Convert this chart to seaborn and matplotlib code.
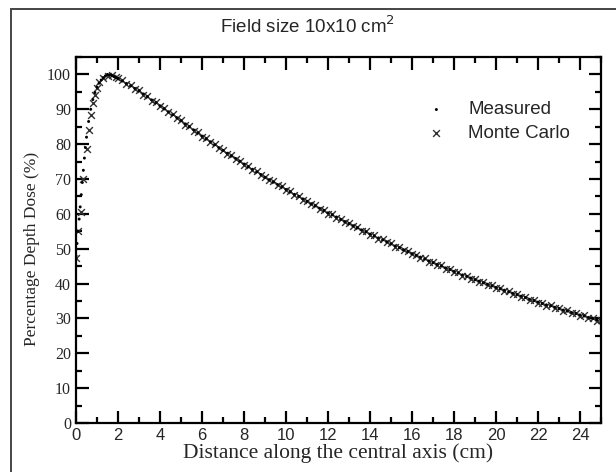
import numpy as np
import pandas as pd
import matplotlib
matplotlib.use("Agg")
import matplotlib.pyplot as plt
from matplotlib.patches import Rectangle
from matplotlib.ticker import MultipleLocator
import seaborn as sns

# Measured PDD, build-up region (cm, %)
depth_meas_buildup = [0.0, 0.05, 0.1, 0.15, 0.2, 0.25, 0.3, 0.35, 0.4, 0.45, 0.5,
                      0.6, 0.7, 0.8, 0.9, 1.0, 1.1, 1.2, 1.3, 1.4, 1.5, 1.6, 1.7,
                      1.8, 1.9, 2.0]
dose_meas_buildup = [48.0, 51.5, 55.0, 58.5, 62.0, 65.5, 69.0, 72.5, 76.0, 79.0, 82.0,
                     86.5, 90.0, 92.8, 94.8, 96.3, 97.5, 98.4, 99.1, 99.6, 100.0, 99.9, 99.7,
                     99.4, 99.1, 98.8]

# Monte Carlo PDD, build-up region
depth_mc_buildup = [0.0, 0.1, 0.25, 0.35, 0.5, 0.6, 0.7, 0.8, 0.9, 1.0, 1.1, 1.3,
                    1.5, 1.7, 1.9, 2.0]
dose_mc_buildup = [47.4, 55.0, 60.5, 70.0, 78.6, 84.0, 88.5, 91.7, 94.0, 96.0, 97.8, 99.0,
                   99.6, 99.8, 99.3, 98.9]

# fall-off region, sampled every 0.2 cm from 2.2 to 25 cm
depth_tail = np.round(np.arange(2.2, 25.01, 0.2), 1)
dose_meas_tail = [
    98.1, 97.4, 96.7, 96.0, 95.3,
    94.4, 93.6, 92.7, 91.9, 91.0,
    90.1, 89.3, 88.4, 87.6, 86.7,
    85.8, 85.0, 84.1, 83.2, 82.3,
    81.5, 80.7, 79.8, 79.0, 78.2,
    77.4, 76.6, 75.9, 75.1, 74.3,
    73.5, 72.8, 72.0, 71.3, 70.5,
    69.8, 69.1, 68.4, 67.7, 67.0,
    66.3, 65.6, 65.0, 64.3, 63.6,
    62.9, 62.3, 61.6, 61.0, 60.3,
    59.7, 59.1, 58.4, 57.8, 57.2,
    56.6, 56.0, 55.4, 54.8, 54.2,
    53.6, 53.1, 52.5, 52.0, 51.4,
    50.8, 50.3, 49.7, 49.2, 48.6,
    48.1, 47.6, 47.0, 46.5, 46.0,
    45.5, 45.0, 44.5, 44.0, 43.5,
    43.0, 42.5, 42.1, 41.6, 41.1,
    40.7, 40.2, 39.8, 39.3, 38.9,
    38.5, 38.1, 37.6, 37.2, 36.8,
    36.4, 36.0, 35.5, 35.1, 34.7,
    34.3, 33.9, 33.6, 33.2, 32.8,
    32.4, 32.1, 31.7, 31.4, 31.0,
    30.7, 30.3, 30.0, 29.6, 29.3,
]
dose_mc_tail = [
    98.3, 97.2, 96.9, 95.8, 95.5,
    94.2, 93.8, 92.5, 92.1, 90.8,
    90.3, 89.1, 88.6, 87.4, 86.9,
    85.6, 85.2, 83.9, 83.4, 82.1,
    81.7, 80.5, 80.0, 78.8, 78.4,
    77.2, 76.8, 75.7, 75.3, 74.1,
    73.7, 72.6, 72.2, 71.1, 70.7,
    69.6, 69.3, 68.2, 67.9, 66.8,
    66.5, 65.4, 65.2, 64.1, 63.8,
    62.7, 62.5, 61.4, 61.2, 60.1,
    59.9, 58.9, 58.6, 57.6, 57.4,
    56.4, 56.2, 55.2, 55.0, 54.0,
    53.8, 52.9, 52.7, 51.8, 51.6,
    50.6, 50.5, 49.5, 49.4, 48.4,
    48.3, 47.4, 47.2, 46.3, 46.2,
    45.3, 45.2, 44.3, 44.2, 43.3,
    43.2, 42.3, 42.3, 41.4, 41.3,
    40.5, 40.4, 39.6, 39.5, 38.7,
    38.7, 37.9, 37.8, 37.0, 37.0,
    36.2, 36.2, 35.3, 35.3, 34.5,
    34.5, 33.7, 33.8, 33.0, 33.0,
    32.2, 32.3, 31.5, 31.6, 30.8,
    30.9, 30.1, 30.2, 29.4, 29.5,
]

meas = pd.DataFrame({"depth": list(depth_meas_buildup) + list(depth_tail),
                     "dose": dose_meas_buildup + dose_meas_tail})
mc = pd.DataFrame({"depth": list(depth_mc_buildup) + list(depth_tail),
                   "dose": dose_mc_buildup + dose_mc_tail})

sns.set_style("white")
plt.rcParams["font.family"] = ["Liberation Sans", "DejaVu Sans"]

fig = plt.figure(figsize=(6.16, 4.72), dpi=100)
ax = fig.add_axes([76 / 616, 1 - 423 / 472, 525 / 616, 366 / 472])

# outer frame of the original figure
fig.patches.append(Rectangle((11 / 616, -0.1), 1.2, 1 - 9 / 472 + 0.1,
                             transform=fig.transFigure, fill=False,
                             edgecolor="#444444", linewidth=1.4))

sns.scatterplot(data=meas, x="depth", y="dose", marker=".", s=18, color="black",
                edgecolor="none", label="Measured", ax=ax, zorder=3)
sns.scatterplot(data=mc, x="depth", y="dose", marker="x", s=24, color="#333333",
                linewidth=1.0, label="Monte Carlo", ax=ax, zorder=2)

ax.set_xlim(0, 25)
ax.set_ylim(0, 105)
ax.xaxis.set_major_locator(MultipleLocator(2))
ax.xaxis.set_minor_locator(MultipleLocator(1))
ax.yaxis.set_major_locator(MultipleLocator(10))
ax.yaxis.set_minor_locator(MultipleLocator(5))
ax.tick_params(which="both", direction="in", top=True, right=True, bottom=True,
               left=True, color="black", width=1.6)
ax.tick_params(which="major", length=9)
ax.tick_params(which="minor", length=4.5)
ax.tick_params(axis="x", which="major", pad=3.5)
ax.tick_params(axis="y", which="major", pad=3.5)
for sp in ax.spines.values():
    sp.set_color("black")
    sp.set_linewidth(1.6)

for lab in ax.get_xticklabels():
    lab.set_fontfamily("Liberation Sans")
    lab.set_fontsize(12)
for lab in ax.get_yticklabels():
    lab.set_fontfamily("Liberation Serif")
    lab.set_fontsize(11.5)

ax.set_xlabel("Distance along the central axis (cm)", family="Liberation Serif",
              fontsize=15.5, labelpad=0)
ax.set_ylabel("Percentage Depth Dose (%)", family="Liberation Serif",
              fontsize=12.5)
ax.yaxis.set_label_coords(-0.068, 0.475)

fig.text(0.5, 1 - 33 / 472, "Field size 10x10 cm$^2$", ha="center", va="baseline",
         fontsize=13.5)

leg = ax.legend(loc="upper left", bbox_to_anchor=(0.64, 0.925), frameon=False,
                fontsize=13.5, handlelength=0.8, handletextpad=1.3,
                labelspacing=0.35, markerscale=1.0)

fig.savefig("out.png", dpi=100)
